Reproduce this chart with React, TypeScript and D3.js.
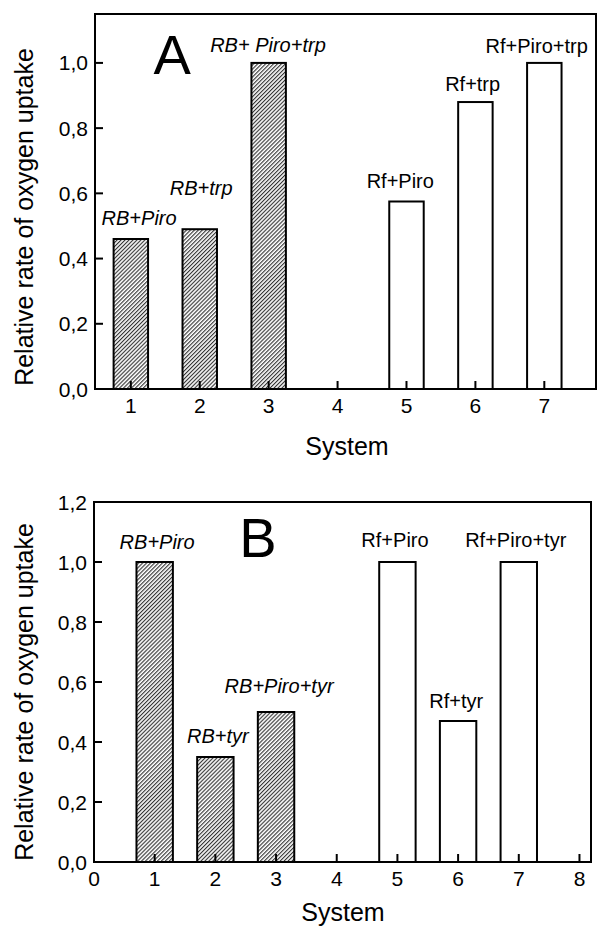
import React from 'react';
import * as d3 from 'd3';

// Panel A
const systemsA = [1, 2, 3, 5, 6, 7];
const valuesA = [0.46, 0.49, 1.0, 0.575, 0.88, 1.0];
const hatchedA = [true, true, true, false, false, false];
const labelsA = ['RB+Piro', 'RB+trp', 'RB+ Piro+trp', 'Rf+Piro', 'Rf+trp', 'Rf+Piro+trp'];
const labelPosA: [number, number][] = [[1.12, 0.503], [2.02, 0.595], [2.99, 1.034], [4.91, 0.617], [5.96, 0.914], [6.89, 1.031]];
const xTicksA = [1, 2, 3, 4, 5, 6, 7];
const yTicksA = [0, 0.2, 0.4, 0.6, 0.8, 1.0];

// Panel B
const systemsB = [1, 2, 3, 5, 6, 7];
const valuesB = [1.0, 0.35, 0.5, 1.0, 0.47, 1.0];
const hatchedB = [true, true, true, false, false, false];
const labelsB = ['RB+Piro', 'RB+tyr', 'RB+Piro+tyr', 'Rf+Piro', 'Rf+tyr', 'Rf+Piro+tyr'];
const labelPosB: [number, number][] = [[1.04, 1.043], [2.04, 0.396], [3.05, 0.563], [4.96, 1.05], [5.97, 0.513], [6.95, 1.05]];
const xTicksB = [0, 1, 2, 3, 4, 5, 6, 7, 8];
const yTicksB = [0, 0.2, 0.4, 0.6, 0.8, 1.0, 1.2];

const FONT = '"Liberation Sans", Arial, sans-serif';
const fmt = (v: number) => d3.format('.1f')(v).replace('.', ',');

interface PanelProps {
  box: { left: number; right: number; top: number; bottom: number };
  xDomain: [number, number];
  yDomain: [number, number];
  systems: number[];
  values: number[];
  hatched: boolean[];
  labels: string[];
  labelPos: [number, number][];
  xTicks: number[];
  yTicks: number[];
  barWidth: number;
  letter: string;
  letterPos: [number, number];
  yTitleY: number;
  xTitleX: number;
  xTitleDy: number;
}

const Panel: React.FC<PanelProps> = (p) => {
  const x = d3.scaleLinear().domain(p.xDomain).range([p.box.left, p.box.right]);
  const y = d3.scaleLinear().domain(p.yDomain).range([p.box.bottom, p.box.top]);
  const bw = x(p.barWidth) - x(0);

  return (
    <g fontFamily={FONT}>
      {/* bars */}
      {p.systems.map((s, i) => (
        <rect
          key={'b' + i}
          x={x(s) - bw / 2}
          y={y(p.values[i])}
          width={bw}
          height={y(0) - y(p.values[i])}
          fill={p.hatched[i] ? 'url(#hatch)' : '#fff'}
          stroke="#000"
          strokeWidth={2}
        />
      ))}
      {/* frame */}
      <rect
        x={p.box.left}
        y={p.box.top}
        width={p.box.right - p.box.left}
        height={p.box.bottom - p.box.top}
        fill="none"
        stroke="#000"
        strokeWidth={2}
      />
      {/* y ticks */}
      {p.yTicks.map((t) => (
        <g key={'y' + t}>
          <line x1={p.box.left} x2={p.box.left + 8} y1={y(t)} y2={y(t)} stroke="#000" strokeWidth={2} />
          <text x={p.box.left - 7} y={y(t) + 7.5} textAnchor="end" fontSize={21}>{fmt(t)}</text>
        </g>
      ))}
      {/* x ticks */}
      {p.xTicks.map((t) => (
        <g key={'x' + t}>
          {t > p.xDomain[0] && (
            <line x1={x(t)} x2={x(t)} y1={p.box.bottom} y2={p.box.bottom - 8} stroke="#000" strokeWidth={2} />
          )}
          <text x={x(t)} y={p.box.bottom + 24} textAnchor="middle" fontSize={21}>{t}</text>
        </g>
      ))}
      {/* bar labels */}
      {p.labels.map((l, i) => (
        <text
          key={'l' + i}
          x={x(p.labelPos[i][0])}
          y={y(p.labelPos[i][1])}
          textAnchor="middle"
          fontSize={20}
          fontStyle={p.hatched[i] ? 'italic' : 'normal'}
        >
          {l}
        </text>
      ))}
      <text x={x(p.letterPos[0])} y={y(p.letterPos[1])} textAnchor="middle" fontSize={56}>{p.letter}</text>
      {/* axis titles */}
      <text
        transform={`translate(33,${p.yTitleY}) rotate(-90)`}
        textAnchor="middle"
        fontSize={25}
      >
        Relative rate of oxygen uptake
      </text>
      <text x={p.xTitleX} y={p.box.bottom + p.xTitleDy} textAnchor="middle" fontSize={25}>System</text>
    </g>
  );
};

export default function App() {
  return (
    <div style={{ position: 'absolute', left: 0, top: 0 }}>
      <svg width={598} height={929} style={{ display: 'block', background: '#fff' }}>
        <defs>
          <pattern id="hatch" patternUnits="userSpaceOnUse" width={2.8} height={2.8} patternTransform="rotate(45)">
            <rect width={2.8} height={2.8} fill="#fff" />
            <line x1={0.6} y1={0} x2={0.6} y2={2.8} stroke="#222" strokeWidth={1.05} />
          </pattern>
        </defs>
        <Panel
          box={{ left: 95, right: 596, top: 14, bottom: 389 }}
          xDomain={[0.48, 7.75]}
          yDomain={[0, 1.15]}
          systems={systemsA}
          values={valuesA}
          hatched={hatchedA}
          labels={labelsA}
          labelPos={labelPosA}
          xTicks={xTicksA}
          yTicks={yTicksA}
          barWidth={0.5}
          letter="A"
          letterPos={[1.6, 0.966]}
          yTitleY={217}
          xTitleX={347}
          xTitleDy={66}
        />
        <Panel
          box={{ left: 94, right: 591, top: 502, bottom: 862 }}
          xDomain={[0, 8.19]}
          yDomain={[0, 1.2]}
          systems={systemsB}
          values={valuesB}
          hatched={hatchedB}
          labels={labelsB}
          labelPos={labelPosB}
          xTicks={xTicksB}
          yTicks={yTicksB}
          barWidth={0.6}
          letter="B"
          letterPos={[2.7, 1.017]}
          yTitleY={692}
          xTitleX={343}
          xTitleDy={59}
        />
      </svg>
    </div>
  );
}
